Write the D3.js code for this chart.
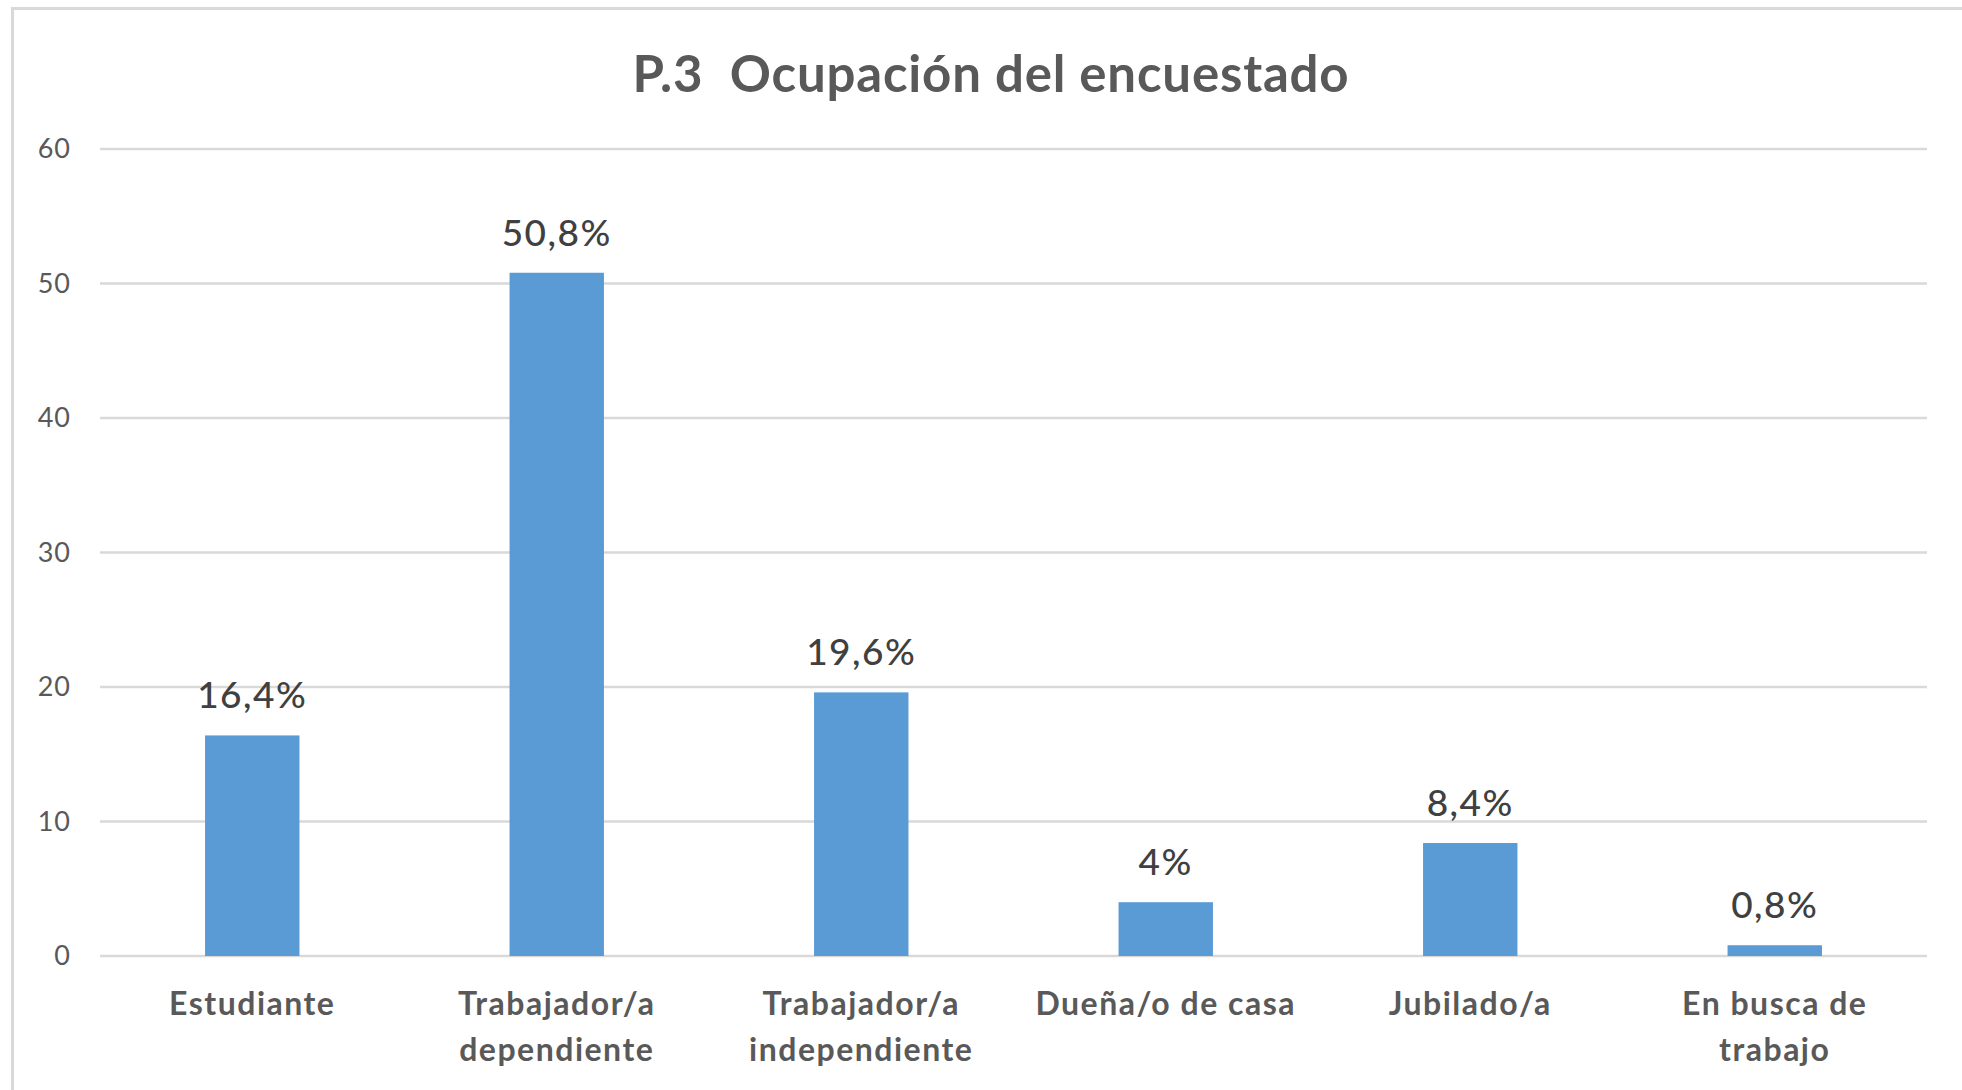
<!DOCTYPE html>
<html>
<head>
<meta charset="utf-8">
<script src="https://cdn.jsdelivr.net/npm/d3@7"></script>
<style>
  body { margin: 0; background: #fff; }
  svg { display: block; }
</style>
</head>
<body>
<script>
// chart data
var categories = [["Estudiante"], ["Trabajador/a", "dependiente"], ["Trabajador/a", "independiente"], ["Dueña/o de casa"], ["Jubilado/a"], ["En busca de", "trabajo"]];
var values = [16.4, 50.8, 19.6, 4, 8.4, 0.8];
var valueLabels = ["16,4%", "50,8%", "19,6%", "4%", "8,4%", "0,8%"];
var yTicks = [0, 10, 20, 30, 40, 50, 60];
var title = "P.3  Ocupación del encuestado";

var width = 1962;
var height = 1090;
var margin = {top: 149, right: 35, bottom: 134, left: 100};
var fontFamily = "Lato, 'Open Sans', sans-serif";

var svg = d3.select("body").append("svg")
    .attr("width", width)
    .attr("height", height);

// frame of the chart area
svg.append("rect")
    .attr("x", 12.5)
    .attr("y", 8.5)
    .attr("width", width + 20)
    .attr("height", height + 20)
    .attr("fill", "#fff")
    .attr("stroke", "#d9d9d9")
    .attr("stroke-width", 3);

var x = d3.scaleBand()
    .domain(d3.range(categories.length))
    .range([margin.left, width - margin.right])
    .paddingInner(0.69)
    .paddingOuter(0.345);

var y = d3.scaleLinear()
    .domain([0, 60])
    .range([height - margin.bottom, margin.top]);

// gridlines
svg.append("g")
    .selectAll("line")
    .data(yTicks)
    .enter().append("line")
    .attr("x1", margin.left)
    .attr("x2", width - margin.right)
    .attr("y1", function (d) { return y(d); })
    .attr("y2", function (d) { return y(d); })
    .attr("stroke", "#d9d9d9")
    .attr("stroke-width", 2.5);

// y axis labels
var yAxis = d3.axisLeft(y).tickValues(yTicks).tickSize(0).tickPadding(0);
var yg = svg.append("g")
    .attr("transform", "translate(71,0)")
    .call(yAxis);
yg.select(".domain").remove();
yg.selectAll("text")
    .attr("fill", "#595959")
    .style("font-family", fontFamily)
    .style("font-size", "27px")
    .style("letter-spacing", "1px");

// bars
svg.append("g")
    .selectAll("rect")
    .data(values)
    .enter().append("rect")
    .attr("x", function (d, i) { return x(i); })
    .attr("width", x.bandwidth())
    .attr("y", function (d) { return y(d); })
    .attr("height", function (d) { return y(0) - y(d); })
    .attr("fill", "#5b9bd5");

// data labels
svg.append("g")
    .selectAll("text")
    .data(values)
    .enter().append("text")
    .attr("x", function (d, i) { return x(i) + x.bandwidth() / 2; })
    .attr("y", function (d) { return y(d) - 27; })
    .attr("text-anchor", "middle")
    .attr("fill", "#404040")
    .style("font-family", fontFamily)
    .style("font-size", "37px")
    .style("font-weight", "500")
    .style("letter-spacing", "1.5px")
    .text(function (d, i) { return valueLabels[i]; });

// category labels
var catG = svg.append("g")
    .selectAll("text")
    .data(categories)
    .enter().append("text")
    .attr("text-anchor", "middle")
    .attr("fill", "#595959")
    .style("font-family", fontFamily)
    .style("font-size", "32px")
    .style("font-weight", "bold")
    .style("letter-spacing", "1.5px");
catG.each(function (lines, i) {
    var t = d3.select(this);
    lines.forEach(function (line, j) {
        t.append("tspan")
            .attr("x", x(i) + x.bandwidth() / 2)
            .attr("y", 1015 + j * 46)
            .text(line);
    });
});

// title
svg.append("text")
    .attr("x", 991)
    .attr("y", 92)
    .attr("text-anchor", "middle")
    .attr("fill", "#595959")
    .style("font-family", fontFamily)
    .style("font-size", "51px")
    .style("font-weight", "bold")
    .style("letter-spacing", "0.8px")
    .style("white-space", "pre")
    .text(title);
</script>
</body>
</html>
